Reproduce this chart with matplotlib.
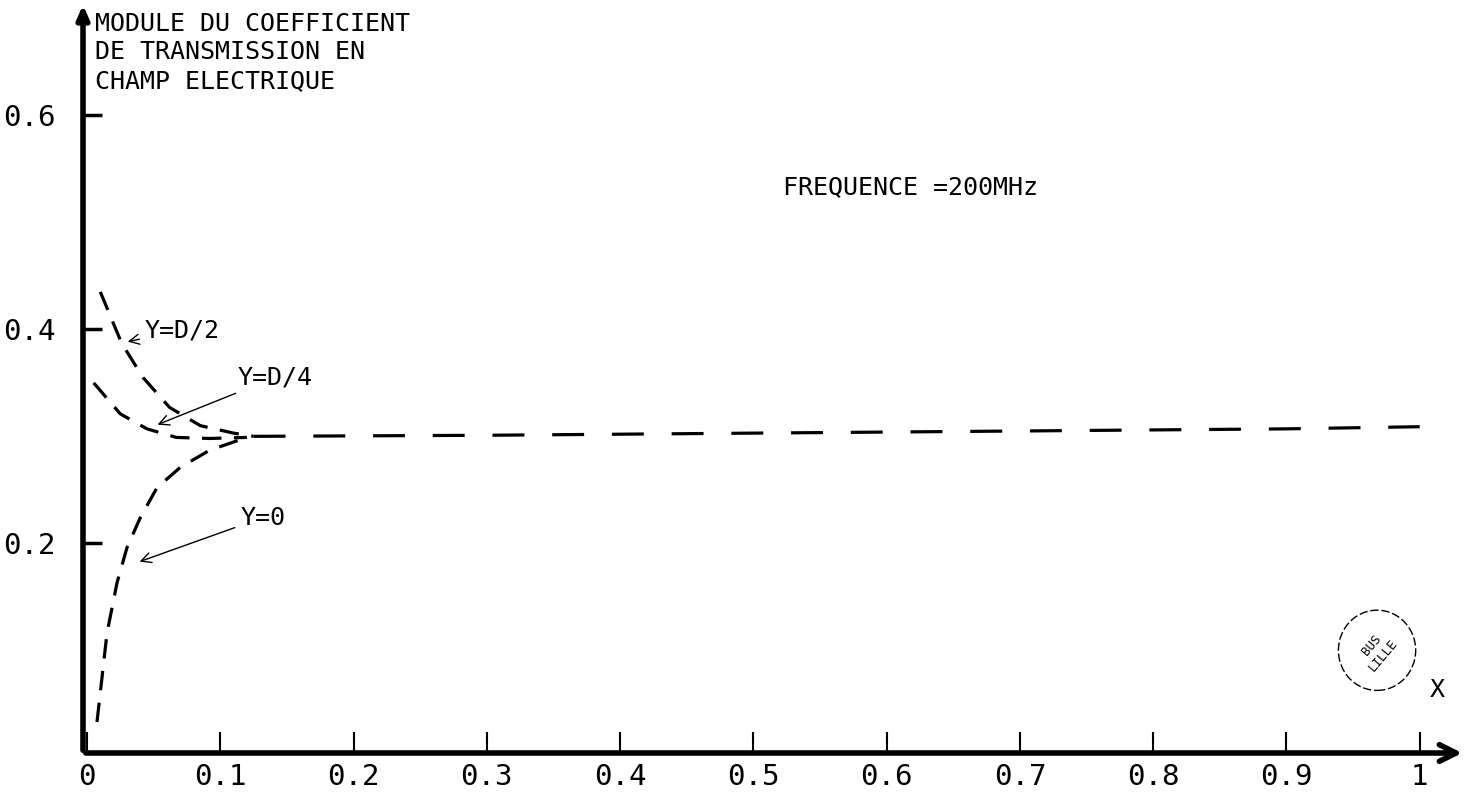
import numpy as np
import matplotlib.pyplot as plt
from matplotlib.patches import Ellipse

plt.rcParams['font.family'] = ['DejaVu Sans Mono', 'DejaVu Sans']
plt.rcParams['lines.scale_dashes'] = False

# courbes pres de l'origine
x_d2 = [0.010, 0.026, 0.042, 0.062, 0.085, 0.110, 0.125]
y_d2 = [0.435, 0.387, 0.355, 0.327, 0.310, 0.303, 0.300]
x_d4 = [0.005, 0.025, 0.045, 0.067, 0.092, 0.120]
y_d4 = [0.350, 0.321, 0.307, 0.299, 0.298, 0.299]
x_y0 = [0.0075, 0.015, 0.0225, 0.030, 0.040, 0.0525, 0.070, 0.092, 0.120]
y_y0 = [0.033, 0.116, 0.163, 0.196, 0.224, 0.252, 0.271, 0.287, 0.299]
# partie commune
x_tail = [0.125, 0.3, 0.5, 0.7, 0.9, 1.0]
y_tail = [0.300, 0.301, 0.303, 0.305, 0.307, 0.309]

xticks = [0, 0.1, 0.2, 0.3, 0.4, 0.5, 0.6, 0.7, 0.8, 0.9, 1]
xlabels = ['0', '0.1', '0.2', '0.3', '0.4', '0.5', '0.6', '0.7', '0.8', '0.9', '1']
yticks = [0.2, 0.4, 0.6]
ylabels = ['0.2', '0.4', '0.6']

W, H = 1468, 805
fig = plt.figure(figsize=(W / 100, H / 100), dpi=100)
ax = fig.add_axes([83 / W, (H - 753) / H, (1465 - 83) / W, (753 - 2) / H])
ax.set_xlim(-0.003, 1.034)
ax.set_ylim(0.004, 0.706)
for s in ax.spines.values():
    s.set_visible(False)

# axes avec fleches
ax.annotate('', xy=(1.0, 0), xytext=(0, 0), xycoords='axes fraction',
            arrowprops=dict(arrowstyle='->,head_length=1.2,head_width=0.6', lw=4, color='black'))
ax.annotate('', xy=(0, 1.0), xytext=(0, 0), xycoords='axes fraction',
            arrowprops=dict(arrowstyle='-|>,head_length=0.8,head_width=0.35', lw=4, color='black'))

ax.set_xticks(xticks)
ax.set_xticklabels(xlabels)
ax.set_yticks(yticks)
ax.set_yticklabels(ylabels)
ax.tick_params(axis='x', direction='in', length=15, width=1.5, pad=7, labelsize=21)
ax.tick_params(axis='y', direction='in', length=14, width=2.5, pad=20, labelsize=21)

short = (14, 9)
for xs, ys in [(x_d2, y_d2), (x_d4, y_d4), (x_y0, y_y0)]:
    ax.plot(xs, ys, color='black', lw=2.3, linestyle=(0, short))
ax.plot(x_tail, y_tail, color='black', lw=2.3, linestyle=(0, (23, 20)))

ap = dict(arrowstyle='->', lw=1.0, color='black')
ax.annotate('Y=D/2', xy=(0.0285, 0.388), xytext=(0.0435, 0.399), fontsize=18,
            va='center', arrowprops=ap)
ax.annotate('Y=D/4', xy=(0.051, 0.310), xytext=(0.113, 0.355), fontsize=18,
            va='center', arrowprops=ap)
ax.annotate('Y=0', xy=(0.0375, 0.182), xytext=(0.115, 0.224), fontsize=18,
            va='center', arrowprops=ap)

ax.text(0.522, 0.533, 'FREQUENCE =200MHz', fontsize=18, va='center')
ax.text(0.006, 0.697, 'MODULE DU COEFFICIENT\nDE TRANSMISSION EN\nCHAMP ELECTRIQUE',
        fontsize=18, va='top', linespacing=1.25)
ax.text(1.013, 0.063, 'X', fontsize=18, va='center', ha='center')

# tampon
ax.add_patch(Ellipse((0.968, 0.100), 0.058, 0.075, fill=False, lw=1.0,
                     linestyle=(0, (6, 2)), color='black'))
ax.text(0.968, 0.100, 'BUS\nLILLE', fontsize=9, ha='center', va='center', rotation=50)

fig.savefig('out.png', dpi=100)
